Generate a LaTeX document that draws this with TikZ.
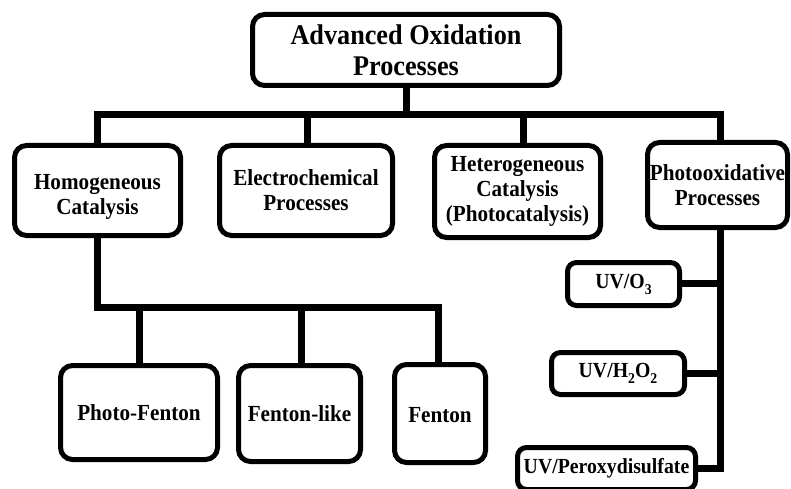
\documentclass[tikz,border=0pt]{standalone}
\usepackage{fontspec}
\setmainfont[FakeStretch=0.92]{Liberation Serif}
\begin{document}
\begin{tikzpicture}[x=1pt,y=-1pt,
  box/.style={draw=black,line width=5pt,rounded corners=12pt,fill=white,inner sep=0pt,align=center,font=\bfseries\fontsize{23}{25}\selectfont},
  uvbox/.style={box,rounded corners=9pt,font=\bfseries\fontsize{21.5}{24}\selectfont},
  conn/.style={draw=black,line width=7pt}]
\useasboundingbox (0,0) rectangle (791,489);
\clip (0,0) rectangle (791,489);
\newcommand{\sbs}[1]{\raisebox{-0.28em}{\fontsize{15}{15}\selectfont #1}}
\newcommand{\lowered}[2]{\raisebox{-#1}[\height][\depth]{\begin{tabular}{@{}c@{}}#2\end{tabular}}}
% connectors (drawn first, covered by boxes)
\draw[conn] (406,88) -- (406,115);
\draw[conn] (97,150) -- (97,115) -- (720,115) -- (720,150);
\draw[conn] (307,115) -- (307,150);
\draw[conn] (523,115) -- (523,150);
\draw[conn] (97,230) -- (97,307) -- (438,307) -- (438,370);
\draw[conn] (139,307) -- (139,370);
\draw[conn] (301,307) -- (301,370);
\draw[conn] (720,225) -- (720,468) -- (690,468);
\draw[conn] (720,283) -- (675,283);
\draw[conn] (720,373) -- (680,373);
% boxes
\node[box,minimum width=307pt,minimum height=71pt,font=\bfseries\fontsize{28.5}{31}\selectfont] (top) at (406,50) {Advanced Oxidation\\Processes};
\node[box,minimum width=166pt,minimum height=90pt] (homog) at (97.5,190.5) {\lowered{6pt}{Homogeneous\\Catalysis}};
\node[box,minimum width=173pt,minimum height=90pt] (electro) at (306,190.5) {Electrochemical\\Processes};
\node[box,minimum width=166pt,minimum height=92pt] (hetero) at (517.5,191.5) {Heterogeneous\\Catalysis\\(Photocatalysis)};
\node[box,minimum width=140pt,minimum height=85pt] (photo) at (717.5,185) {Photooxidative\\Processes};
\node[box,minimum width=157pt,minimum height=94pt] (pf) at (139,412.5) {Photo-Fenton};
\node[box,minimum width=122pt,minimum height=96pt] (fl) at (299.5,413.5) {\lowered{3pt}{Fenton-like}};
\node[box,minimum width=91pt,minimum height=98pt] (fen) at (440,413.5) {\lowered{4pt}{Fenton}};
\node[uvbox,minimum width=112pt,minimum height=43pt] (uvo) at (623.5,284) {UV/O\sbs{3}};
\node[uvbox,minimum width=133pt,minimum height=42pt] (uvh) at (618,373.5) {UV/H\sbs{2}O\sbs{2}};
\node[uvbox,minimum width=178pt,minimum height=42pt] (uvp) at (606.5,468.5) {UV/Peroxydisulfate};
\end{tikzpicture}
\end{document}
